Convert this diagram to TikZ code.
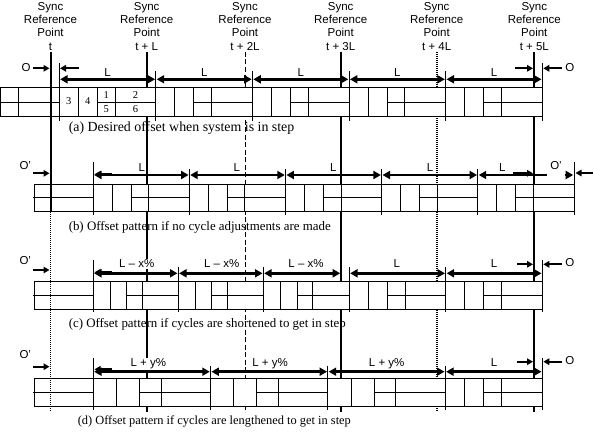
\documentclass[tikz,border=0pt]{standalone}
\usepackage{fontspec}
\setmainfont{Liberation Serif}
\setsansfont{Liberation Sans}
\usetikzlibrary{arrows.meta}

\tikzset{
	syncsolid/.style={line width=2pt},
	syncdash/.style={line width=0.9pt, dash pattern=on 5pt off 2.5pt},
	syncdot/.style={line width=1.6pt, dash pattern=on 1pt off 1pt},
	spanarrow/.style={line width=2.6pt, {Triangle[length=7.5pt,width=8pt]}-{Triangle[length=7.5pt,width=8pt]}},
	offarrow/.style={line width=1.8pt, -{Triangle[length=6pt,width=6.5pt]}},
	spanlbl/.style={font=\sffamily\fontsize{11.5}{13}\selectfont, fill=white, inner sep=1pt, anchor=base},
	synclbl/.style={font=\sffamily\fontsize{11.5}{13.1}\selectfont, align=center, inner sep=0pt, anchor=north},
	offlbl/.style={font=\sffamily\fontsize{11.5}{13}\selectfont, inner sep=0pt},
	caplbl/.style={inner sep=0pt, anchor=base west},
	slotlbl/.style={font=\fontsize{10.5}{12}\selectfont, inner sep=0pt}
}

% start, length, top, bottom
\newcommand{\drawslots}[4]{%
	\draw (#1,#3) -- (#1,#4);
	\draw ({#1+0.197*#2},#3) -- ({#1+0.197*#2},#4);
	\draw ({#1+0.393*#2},#3) -- ({#1+0.393*#2},#4);
	\draw ({#1+0.577*#2},#3) -- ({#1+0.577*#2},#4);
	\draw ({#1+0.393*#2},{(#3+#4)/2}) -- ({#1+#2},{(#3+#4)/2});
}

\begin{document}
\begin{tikzpicture}[x=1pt,y=-1pt,line width=0.9pt]
	\useasboundingbox (0,0) rectangle (594,444);

	\foreach \x/\t/\n in {50.5/t/0, 146.7/t + L/1, 245/t + 2L/2, 340.7/t + 3L/3, 436.7/t + 4L/4, 534.3/t + 5L/5}
		\node[synclbl] (sync\n) at (\x,2.3) {Sync\\Reference\\Point\\\t};

	\draw[syncsolid] (146.7,52) -- (146.7,412);
	\draw[syncdash] (245,52) -- (245,412);
	\draw[syncsolid] (340.7,52) -- (340.7,412);
	\draw[syncdot] (436.7,52) -- (436.7,412);
	\draw[syncsolid] (534.3,52) -- (534.3,412);

	% (a)
	\fill[white] (0,87.3) rectangle (542.3,116.7);
	\begin{scope}
		\clip (0,87.3) rectangle (542.3,116.7);
		\foreach \s in {-37.3,59.3,155.9,252.5,349.1,445.7} {\drawslots{\s}{96.6}{87.3}{116.7}}
	\end{scope}
	\draw (0,87.3) rectangle (542.3,116.7);
	\node[slotlbl] (slot3) at (68.8,101.5) {3};
	\node[slotlbl] (slot4) at (87.8,101.5) {4};
	\node[slotlbl] (slot1) at (106.2,95) {1};
	\node[slotlbl] (slot5) at (106.2,109) {5};
	\node[slotlbl] (slot2) at (135.5,95) {2};
	\node[slotlbl] (slot6) at (135.5,109) {6};
	\foreach \a/\b/\n in {59.3/155.9/1, 155.9/252.5/2, 252.5/349.1/3, 349.1/445.7/4, 445.7/542.3/5} {
		\node[spanlbl] (spanA\n) at ({(\a+\b)/2},76) {L};
		\draw[spanarrow] (\a+0.8,79.3) -- (\b-0.8,79.3);
	}
	\foreach \x in {59.3,542.3} \draw (\x,63) -- (\x,121);
	\foreach \x in {155.9,252.5,349.1,445.7} \draw (\x,71) -- (\x,121);
	\node[offlbl, anchor=base east] (offA) at (31,71.7) {O};
	\draw[offarrow] (79,68.3) -- (60,68.3);
	\draw[offarrow] (515,68.3) -- (533,68.3);
	\draw[offarrow] (562,68.3) -- (543.3,68.3);
	\node[offlbl, anchor=base west] (offA2) at (565,71.7) {O};
	\node[caplbl, font=\fontsize{13.9}{15}\selectfont] (capA) at (68.3,131) {(a) Desired offset when system is in step};

	% (b)
	\fill[white] (34,184) rectangle (574,211.7);
	\begin{scope}
		\clip (34,184) rectangle (574,211.7);
		\foreach \s in {93.3,189.4,285.6,381.7,477.9} {\drawslots{\s}{96.1}{184}{211.7}}
	\end{scope}
	\draw (34,184) rectangle (574,211.7);
	\draw (33,197.9) -- (93.3,197.9);
	\foreach \a/\b/\m/\n in {93.3/189.4/141.7/1, 189.4/285.6/236.7/2, 285.6/381.7/333.3/3, 381.7/477.9/430/4, 477.9/574/502.3/5} {
		\node[spanlbl] (spanB\n) at (\m,171.7) {L};
		\draw[spanarrow] (\a+0.8,175) -- (\b-0.8,175);
	}
	\foreach \x in {93.3,574} \draw (\x,162) -- (\x,215);
	\foreach \x in {189.4,285.6,381.7,477.9} \draw (\x,169) -- (\x,215);
	\node[offlbl, anchor=base east] (offB) at (31.5,169.3) {O'};
	\draw[offarrow] (112,174.3) -- (94.5,174.3);
	\draw[offarrow] (513,173.3) -- (533,173.3);
	\draw[offarrow] (593,173) -- (575.5,173);
	\node[offlbl, anchor=base, fill=white, inner xsep=3pt, inner ysep=1.5pt, text height=8pt, text depth=7pt] (offB2) at (556,169.3) {O'};
	\node[caplbl, font=\fontsize{12.9}{15}\selectfont] (capB) at (68.3,230.5) {(b) Offset pattern if no cycle adjustments are made};

	% (c)
	\fill[white] (34,281) rectangle (542.3,309);
	\begin{scope}
		\clip (34,281) rectangle (542.3,309);
		\foreach \s/\len in {93.3/85, 178.3/85, 263.3/86, 349.3/96.5, 445.8/96.5} {\drawslots{\s}{\len}{281}{309}}
	\end{scope}
	\draw (34,281) rectangle (542.3,309);
	\draw (33,295) -- (93.3,295);
	\foreach \a/\b/\m/\t/\n in {93.3/178.3/136.7/L -- x\%/1, 178.3/263.3/221.7/L -- x\%/2, 263.3/341/306/L -- x\%/3, 349.3/445.8/396.7/L/4, 445.8/542.3/494/L/5} {
		\node[spanlbl] (spanC\n) at (\m,267.7) {\t};
		\draw[spanarrow] (\a+0.8,273.3) -- (\b-0.8,273.3);
	}
	\foreach \x in {93.3,542.3} \draw (\x,260) -- (\x,312);
	\foreach \x in {178.3,263.3,349.3,445.8} \draw (\x,267) -- (\x,312);
	\node[offlbl, anchor=base east] (offC) at (31.5,264.3) {O'};
	\draw[offarrow] (112,272.3) -- (94.5,272.3);
	\draw[offarrow] (517,264.3) -- (533,264.3);
	\draw[offarrow] (562,264.3) -- (543.3,264.3);
	\node[offlbl, anchor=base west] (offC2) at (565,266.7) {O};
	\node[caplbl, font=\fontsize{12.9}{15}\selectfont] (capC) at (68.3,327.5) {(c) Offset pattern if cycles are shortened to get in step};

	% (d)
	\fill[white] (34,378.3) rectangle (542.3,406.7);
	\begin{scope}
		\clip (34,378.3) rectangle (542.3,406.7);
		\foreach \s/\len in {93.3/117.3, 210.6/117.3, 327.9/117.4, 445.3/97} {\drawslots{\s}{\len}{378.3}{406.7}}
	\end{scope}
	\draw (34,378.3) rectangle (542.3,406.7);
	\draw (33,392.5) -- (93.3,392.5);
	\foreach \a/\b/\m/\t/\n in {93.3/210.6/148.3/L + y\%/1, 210.6/327.9/270/L + y\%/2, 327.9/445.3/386.7/L + y\%/3, 445.3/542.3/494/L/4} {
		\node[spanlbl] (spanD\n) at (\m,366.7) {\t};
		\draw[spanarrow] (\a+0.8,371.7) -- (\b-0.8,371.7);
	}
	\foreach \x in {93.3,542.3} \draw (\x,358) -- (\x,410);
	\foreach \x in {210.6,327.9,445.3} \draw (\x,366) -- (\x,410);
	\node[offlbl, anchor=base east] (offD) at (31.5,358.3) {O'};
	\draw[offarrow] (112,369.3) -- (94.5,369.3);
	\draw[offarrow] (517,361.7) -- (533,361.7);
	\draw[offarrow] (562,361.7) -- (543.3,361.7);
	\node[offlbl, anchor=base west] (offD2) at (565,364) {O};
	\node[caplbl, font=\fontsize{12.4}{15}\selectfont] (capD) at (77.3,424.5) {(d) Offset pattern if cycles are lengthened to get in step};

	% sync point t and offsets into it
	\draw[syncsolid] (50.5,52) -- (50.5,212);
	\draw[syncdot] (50.5,212) -- (50.5,412);
	\foreach \y in {68.3,173.3,270,366.7} \draw[offarrow] (33,\y) -- (49.5,\y);
\end{tikzpicture}
\end{document}
